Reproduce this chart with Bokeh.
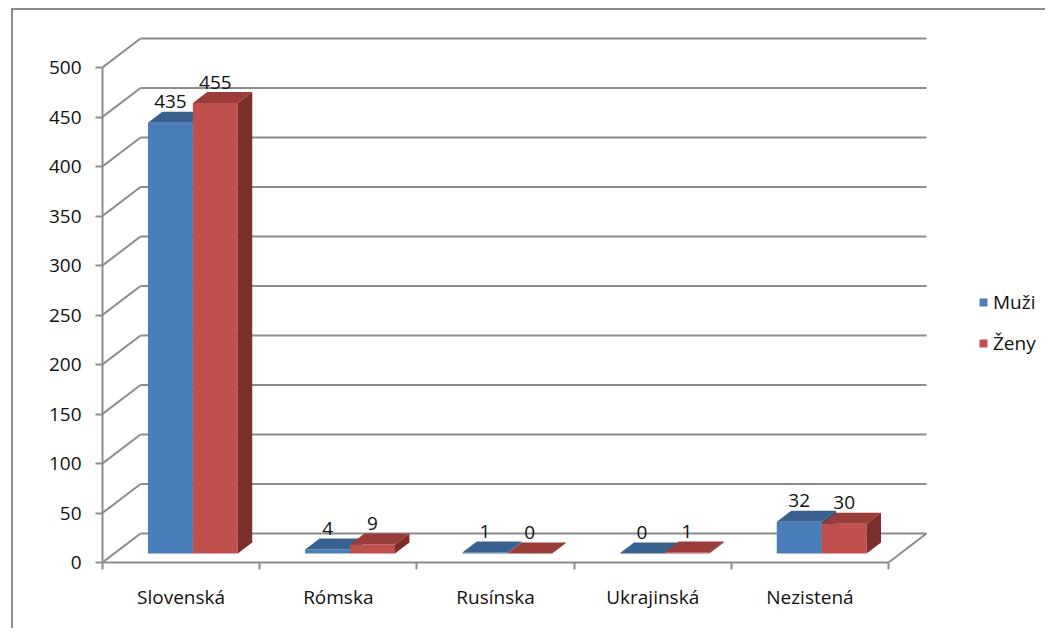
from bokeh.plotting import figure
from bokeh.models import (Range1d, FixedTicker, Legend, LegendItem)
from bokeh.core.properties import value
from bokeh.embed import file_html
from bokeh.resources import INLINE

# ---------------- data ----------------
categories = ["Slovenská", "Rómska", "Rusínska", "Ukrajinská", "Nezistená"]
muzi = [435, 4, 1, 0, 32]
zeny = [455, 9, 0, 1, 30]
series_names = ["Muži", "Ženy"]
y_ticks = [0, 50, 100, 150, 200, 250, 300, 350, 400, 450, 500]

# ---------------- styling / geometry ----------------
FONT = "Open Sans"
FS = "19px"
TXT = "#111111"
GRID = "#8c8c8c"
front_cols = ["#4a7ebb", "#c0504d"]
top_cols = ["#38618f", "#9a3c39"]
side_cols = ["#2c4a70", "#7b2e2c"]

PX_X = 157.2          # pixels per category
PX_Y = 0.99           # pixels per value unit
W, H = 1034, 620
MB_LEFT, MB_BOTTOM = 89, 68
DX = 38 / PX_X        # depth offset in x data units
DY = 29 / PX_Y        # depth offset in y data units
F0, F1 = 0.31, 0.69   # bar front / back depth fractions
BW = 1 / 3.5          # bar width (gap 150 %)
LBL = 21 / PX_Y       # label offset above bar

ncat = len(categories)
x_end = (W - MB_LEFT) / PX_X
y_end = (H - MB_BOTTOM) / PX_Y

p = figure(width=W, height=H, output_backend="svg", toolbar_location=None,
           x_range=Range1d(0, x_end), y_range=Range1d(0, y_end),
           min_border_left=MB_LEFT, min_border_bottom=MB_BOTTOM,
           min_border_top=0, min_border_right=0)
p.styles = {"margin-left": "11px", "margin-top": "8px",
            "border-left": "2px solid #8c8c8c",
            "border-top": "2px solid #8c8c8c"}
p.outline_line_color = None
p.grid.visible = False

# ---------------- walls ----------------
side_x0, side_y0, side_x1, side_y1 = [], [], [], []
back_x0, back_y0, back_x1, back_y1 = [], [], [], []
for t in y_ticks:
    side_x0.append(0); side_y0.append(t); side_x1.append(DX); side_y1.append(t + DY)
    back_x0.append(DX); back_y0.append(t + DY); back_x1.append(ncat + DX); back_y1.append(t + DY)
# floor right edge
side_x0.append(ncat); side_y0.append(0); side_x1.append(ncat + DX); side_y1.append(DY)
p.segment(side_x0, side_y0, side_x1, side_y1, line_color=GRID, line_width=2)
p.segment(back_x0, back_y0, back_x1, back_y1, line_color=GRID, line_width=2)

# ---------------- bars ----------------
d = F1 - F0
legend_items = []
for s, vals in enumerate([muzi, zeny]):
    x0 = [i + 0.5 + F0 * DX - BW + s * BW for i in range(ncat)]
    x1 = [x + BW for x in x0]
    y0 = [F0 * DY] * ncat
    y1 = [F0 * DY + v for v in vals]
    fr = p.quad(left=x0, right=x1, bottom=y0, top=y1, fill_color=front_cols[s],
                line_color=None)
    side_xs = [[a, a + d * DX, a + d * DX, a] for a in x1]
    side_ys = [[b0, b0 + d * DY, b1 + d * DY, b1] for b0, b1 in zip(y0, y1)]
    p.patches(side_xs, side_ys, fill_color=side_cols[s], line_color=None)
    top_xs = [[a, b, b + d * DX, a + d * DX] for a, b in zip(x0, x1)]
    top_ys = [[t, t, t + d * DY, t + d * DY] for t in y1]
    p.patches(top_xs, top_ys, fill_color=top_cols[s], line_color=None)
    legend_items.append(LegendItem(label=series_names[s], renderers=[fr]))

# value labels
for s, vals in enumerate([muzi, zeny]):
    lx = [i + 0.5 + F0 * DX - BW / 2 + s * BW for i in range(ncat)]
    ly = [F0 * DY + v + LBL for v in vals]
    p.text(x=lx, y=ly, text=[str(v) for v in vals], text_align="center",
           text_baseline="middle", text_font=value(FONT), text_font_size=FS,
           text_color=TXT)

# ---------------- axes ----------------
ya = p.yaxis[0]
ya.ticker = FixedTicker(ticks=y_ticks)
ya.bounds = (0, 500)
ya.axis_line_color = GRID
ya.axis_line_width = 2
ya.major_tick_line_color = GRID
ya.major_tick_line_width = 2
ya.major_tick_out = 7
ya.major_tick_in = 0
ya.minor_tick_line_color = None
ya.major_label_standoff = 14
ya.major_label_text_font = FONT
ya.major_label_text_font_size = FS
ya.major_label_text_color = TXT

xa = p.xaxis[0]
centers = [i + 0.5 for i in range(ncat)]
xa.ticker = FixedTicker(ticks=centers, minor_ticks=list(range(ncat + 1)))
xa.major_label_overrides = {c: n for c, n in zip(centers, categories)}
xa.bounds = (0, ncat)
xa.axis_line_color = GRID
xa.axis_line_width = 2
xa.major_tick_line_color = None
xa.major_tick_out = 0
xa.major_tick_in = 0
xa.minor_tick_line_color = GRID
xa.minor_tick_line_width = 2
xa.minor_tick_out = 7
xa.minor_tick_in = 0
xa.major_label_standoff = 14
xa.major_label_text_font = FONT
xa.major_label_text_font_size = FS
xa.major_label_text_color = TXT

# ---------------- legend ----------------
legend = Legend(items=legend_items, location=(876, 206), orientation="vertical",
                glyph_width=10, glyph_height=10, label_height=20, spacing=15,
                label_standoff=5, padding=0, margin=0,
                border_line_color=None, background_fill_alpha=0,
                label_text_font=FONT, label_text_font_size=FS,
                label_text_color=TXT)
p.add_layout(legend)

open("out.html", "w").write(file_html(p, INLINE))
